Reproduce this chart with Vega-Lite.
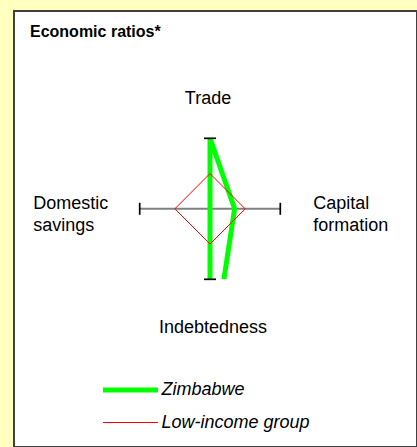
{
  "$schema": "https://vega.github.io/schema/vega-lite/v6.json",
  "width": 403,
  "height": 436,
  "autosize": "none",
  "padding": {"left": 14, "top": 11, "right": 0, "bottom": 0},
  "background": "#ffffc0",
  "view": {"fill": "#ffffff", "stroke": "#404040", "strokeWidth": 2},
  "title": {
    "text": "Economic ratios*",
    "anchor": "start",
    "frame": "group",
    "orient": "top",
    "font": "Liberation Sans",
    "fontSize": 16,
    "fontWeight": "bold",
    "color": "#000000",
    "baseline": "alphabetic",
    "offset": 0,
    "dx": 16,
    "dy": 42
  },
  "config": {"font": "Liberation Sans"},
  "datasets": {
    "ratios": [
      {"group": "Zimbabwe", "indicator": "Trade", "value": 1.0},
      {"group": "Zimbabwe", "indicator": "Capital formation", "value": 0.35},
      {"group": "Zimbabwe", "indicator": "Indebtedness", "value": 2.3},
      {"group": "Zimbabwe", "indicator": "Domestic savings", "value": 0.0},
      {"group": "Low-income group", "indicator": "Trade", "value": 0.5},
      {"group": "Low-income group", "indicator": "Capital formation", "value": 0.5},
      {"group": "Low-income group", "indicator": "Indebtedness", "value": 0.5},
      {"group": "Low-income group", "indicator": "Domestic savings", "value": 0.5}
    ],
    "indicators": [
      {"indicator": "Trade"},
      {"indicator": "Capital formation"},
      {"indicator": "Indebtedness"},
      {"indicator": "Domestic savings"}
    ]
  },
  "layer": [
    {
      "data": {"name": "indicators"},
      "transform": [
        {"calculate": "datum.indicator === 'Capital formation' ? 1 : datum.indicator === 'Domestic savings' ? -1 : 0", "as": "ex"},
        {"calculate": "datum.indicator === 'Trade' ? 1 : datum.indicator === 'Indebtedness' ? -1 : 0", "as": "ey"},
        {"calculate": "0", "as": "cx"},
        {"calculate": "0", "as": "cy"}
      ],
      "mark": {"type": "rule", "color": "#808080", "strokeWidth": 2},
      "encoding": {
        "x": {"field": "cx", "type": "quantitative", "scale": {"domain": [-1, 1], "range": [125.7, 266.3], "nice": false, "zero": false}, "axis": null},
        "y": {"field": "cy", "type": "quantitative", "scale": {"domain": [-1, 1], "range": [268.3, 127.3], "nice": false, "zero": false}, "axis": null},
        "x2": {"field": "ex"},
        "y2": {"field": "ey"}
      }
    },
    {
      "data": {"name": "ratios"},
      "transform": [
        {"calculate": "datum.indicator === 'Capital formation' ? datum.value : datum.indicator === 'Domestic savings' ? -datum.value : 0", "as": "px"},
        {"calculate": "datum.indicator === 'Trade' ? datum.value : datum.indicator === 'Indebtedness' ? -datum.value : 0", "as": "py"}
      ],
      "mark": {
        "type": "line",
        "interpolate": "linear-closed",
        "clip": {"expr": "pathShape('M' + scale('x', -1) + ',' + scale('y', 1) + 'H' + scale('x', 1) + 'V' + scale('y', -1) + 'H' + scale('x', -1) + 'Z')"}
      },
      "encoding": {
        "x": {"field": "px", "type": "quantitative", "scale": {"domain": [-1, 1], "range": [125.7, 266.3], "nice": false, "zero": false}, "axis": null},
        "y": {"field": "py", "type": "quantitative", "scale": {"domain": [-1, 1], "range": [268.3, 127.3], "nice": false, "zero": false}, "axis": null},
        "color": {
          "field": "group", "type": "nominal",
          "scale": {"domain": ["Zimbabwe", "Low-income group"], "range": ["#00ff00", "#ff0000"]},
          "legend": {"title": null, "orient": "none", "legendX": 104.5, "legendY": 367, "padding": 0, "symbolType": "M-3,0H3", "symbolSize": 336, "labelFontSize": 18, "labelFontStyle": "italic", "labelFont": "Liberation Sans", "labelColor": "#000000", "labelOffset": 19, "rowPadding": 12.5}
        },
        "strokeWidth": {
          "field": "group", "type": "nominal",
          "scale": {"type": "ordinal", "domain": ["Zimbabwe", "Low-income group"], "range": [5, 1]},
          "legend": {"title": null, "orient": "none", "legendX": 104.5, "legendY": 367, "padding": 0, "symbolType": "M-3,0H3", "symbolSize": 336, "labelFontSize": 18, "labelFontStyle": "italic", "labelFont": "Liberation Sans", "labelColor": "#000000", "labelOffset": 19, "rowPadding": 12.5}
        },
        "order": {"value": null}
      }
    },
    {
      "data": {"name": "indicators"},
      "transform": [
        {"filter": "datum.indicator === 'Capital formation' || datum.indicator === 'Domestic savings'"},
        {"calculate": "datum.indicator === 'Capital formation' ? 1 : -1", "as": "ex"},
        {"calculate": "0", "as": "ey"}
      ],
      "mark": {"type": "tick", "orient": "vertical", "size": 12, "thickness": 1.7, "color": "#000000", "opacity": 1},
      "encoding": {
        "x": {"field": "ex", "type": "quantitative", "scale": {"domain": [-1, 1], "range": [125.7, 266.3], "nice": false, "zero": false}, "axis": null},
        "y": {"field": "ey", "type": "quantitative", "scale": {"domain": [-1, 1], "range": [268.3, 127.3], "nice": false, "zero": false}, "axis": null}
      }
    },
    {
      "data": {"name": "indicators"},
      "transform": [
        {"filter": "datum.indicator === 'Trade' || datum.indicator === 'Indebtedness'"},
        {"calculate": "0", "as": "ex"},
        {"calculate": "datum.indicator === 'Trade' ? 1 : -1", "as": "ey"}
      ],
      "mark": {"type": "tick", "orient": "horizontal", "size": 12, "thickness": 1.7, "color": "#000000", "opacity": 1},
      "encoding": {
        "x": {"field": "ex", "type": "quantitative", "scale": {"domain": [-1, 1], "range": [125.7, 266.3], "nice": false, "zero": false}, "axis": null},
        "y": {"field": "ey", "type": "quantitative", "scale": {"domain": [-1, 1], "range": [268.3, 127.3], "nice": false, "zero": false}, "axis": null}
      }
    },
    {
      "data": {"name": "indicators"},
      "transform": [{"filter": "datum.indicator === 'Trade'"}, {"calculate": "0", "as": "ex"}, {"calculate": "1", "as": "ey"}],
      "mark": {"type": "text", "align": "center", "baseline": "alphabetic", "dx": -2, "dy": -34.3, "fontSize": 18, "font": "Liberation Sans", "color": "#000000"},
      "encoding": {
        "x": {"field": "ex", "type": "quantitative", "scale": {"domain": [-1, 1], "range": [125.7, 266.3], "nice": false, "zero": false}, "axis": null},
        "y": {"field": "ey", "type": "quantitative", "scale": {"domain": [-1, 1], "range": [268.3, 127.3], "nice": false, "zero": false}, "axis": null},
        "text": {"field": "indicator"}
      }
    },
    {
      "data": {"name": "indicators"},
      "transform": [{"filter": "datum.indicator === 'Indebtedness'"}, {"calculate": "0", "as": "ex"}, {"calculate": "-1", "as": "ey"}],
      "mark": {"type": "text", "align": "center", "baseline": "alphabetic", "dx": 3, "dy": 53.4, "fontSize": 18, "font": "Liberation Sans", "color": "#000000"},
      "encoding": {
        "x": {"field": "ex", "type": "quantitative", "scale": {"domain": [-1, 1], "range": [125.7, 266.3], "nice": false, "zero": false}, "axis": null},
        "y": {"field": "ey", "type": "quantitative", "scale": {"domain": [-1, 1], "range": [268.3, 127.3], "nice": false, "zero": false}, "axis": null},
        "text": {"field": "indicator"}
      }
    },
    {
      "data": {"name": "indicators"},
      "transform": [{"filter": "datum.indicator === 'Capital formation'"}, {"calculate": "1", "as": "ex"}, {"calculate": "0", "as": "ey"}],
      "mark": {"type": "text", "align": "left", "baseline": "alphabetic", "dx": 33, "dy": 0.3, "fontSize": 18, "font": "Liberation Sans", "color": "#000000", "lineBreak": " ", "lineHeight": 22},
      "encoding": {
        "x": {"field": "ex", "type": "quantitative", "scale": {"domain": [-1, 1], "range": [125.7, 266.3], "nice": false, "zero": false}, "axis": null},
        "y": {"field": "ey", "type": "quantitative", "scale": {"domain": [-1, 1], "range": [268.3, 127.3], "nice": false, "zero": false}, "axis": null},
        "text": {"field": "indicator"}
      }
    },
    {
      "data": {"name": "indicators"},
      "transform": [{"filter": "datum.indicator === 'Domestic savings'"}, {"calculate": "-1", "as": "ex"}, {"calculate": "0", "as": "ey"}],
      "mark": {"type": "text", "align": "left", "baseline": "alphabetic", "dx": -106.4, "dy": 0.3, "fontSize": 18, "font": "Liberation Sans", "color": "#000000", "lineBreak": " ", "lineHeight": 22},
      "encoding": {
        "x": {"field": "ex", "type": "quantitative", "scale": {"domain": [-1, 1], "range": [125.7, 266.3], "nice": false, "zero": false}, "axis": null},
        "y": {"field": "ey", "type": "quantitative", "scale": {"domain": [-1, 1], "range": [268.3, 127.3], "nice": false, "zero": false}, "axis": null},
        "text": {"field": "indicator"}
      }
    }
  ]
}
